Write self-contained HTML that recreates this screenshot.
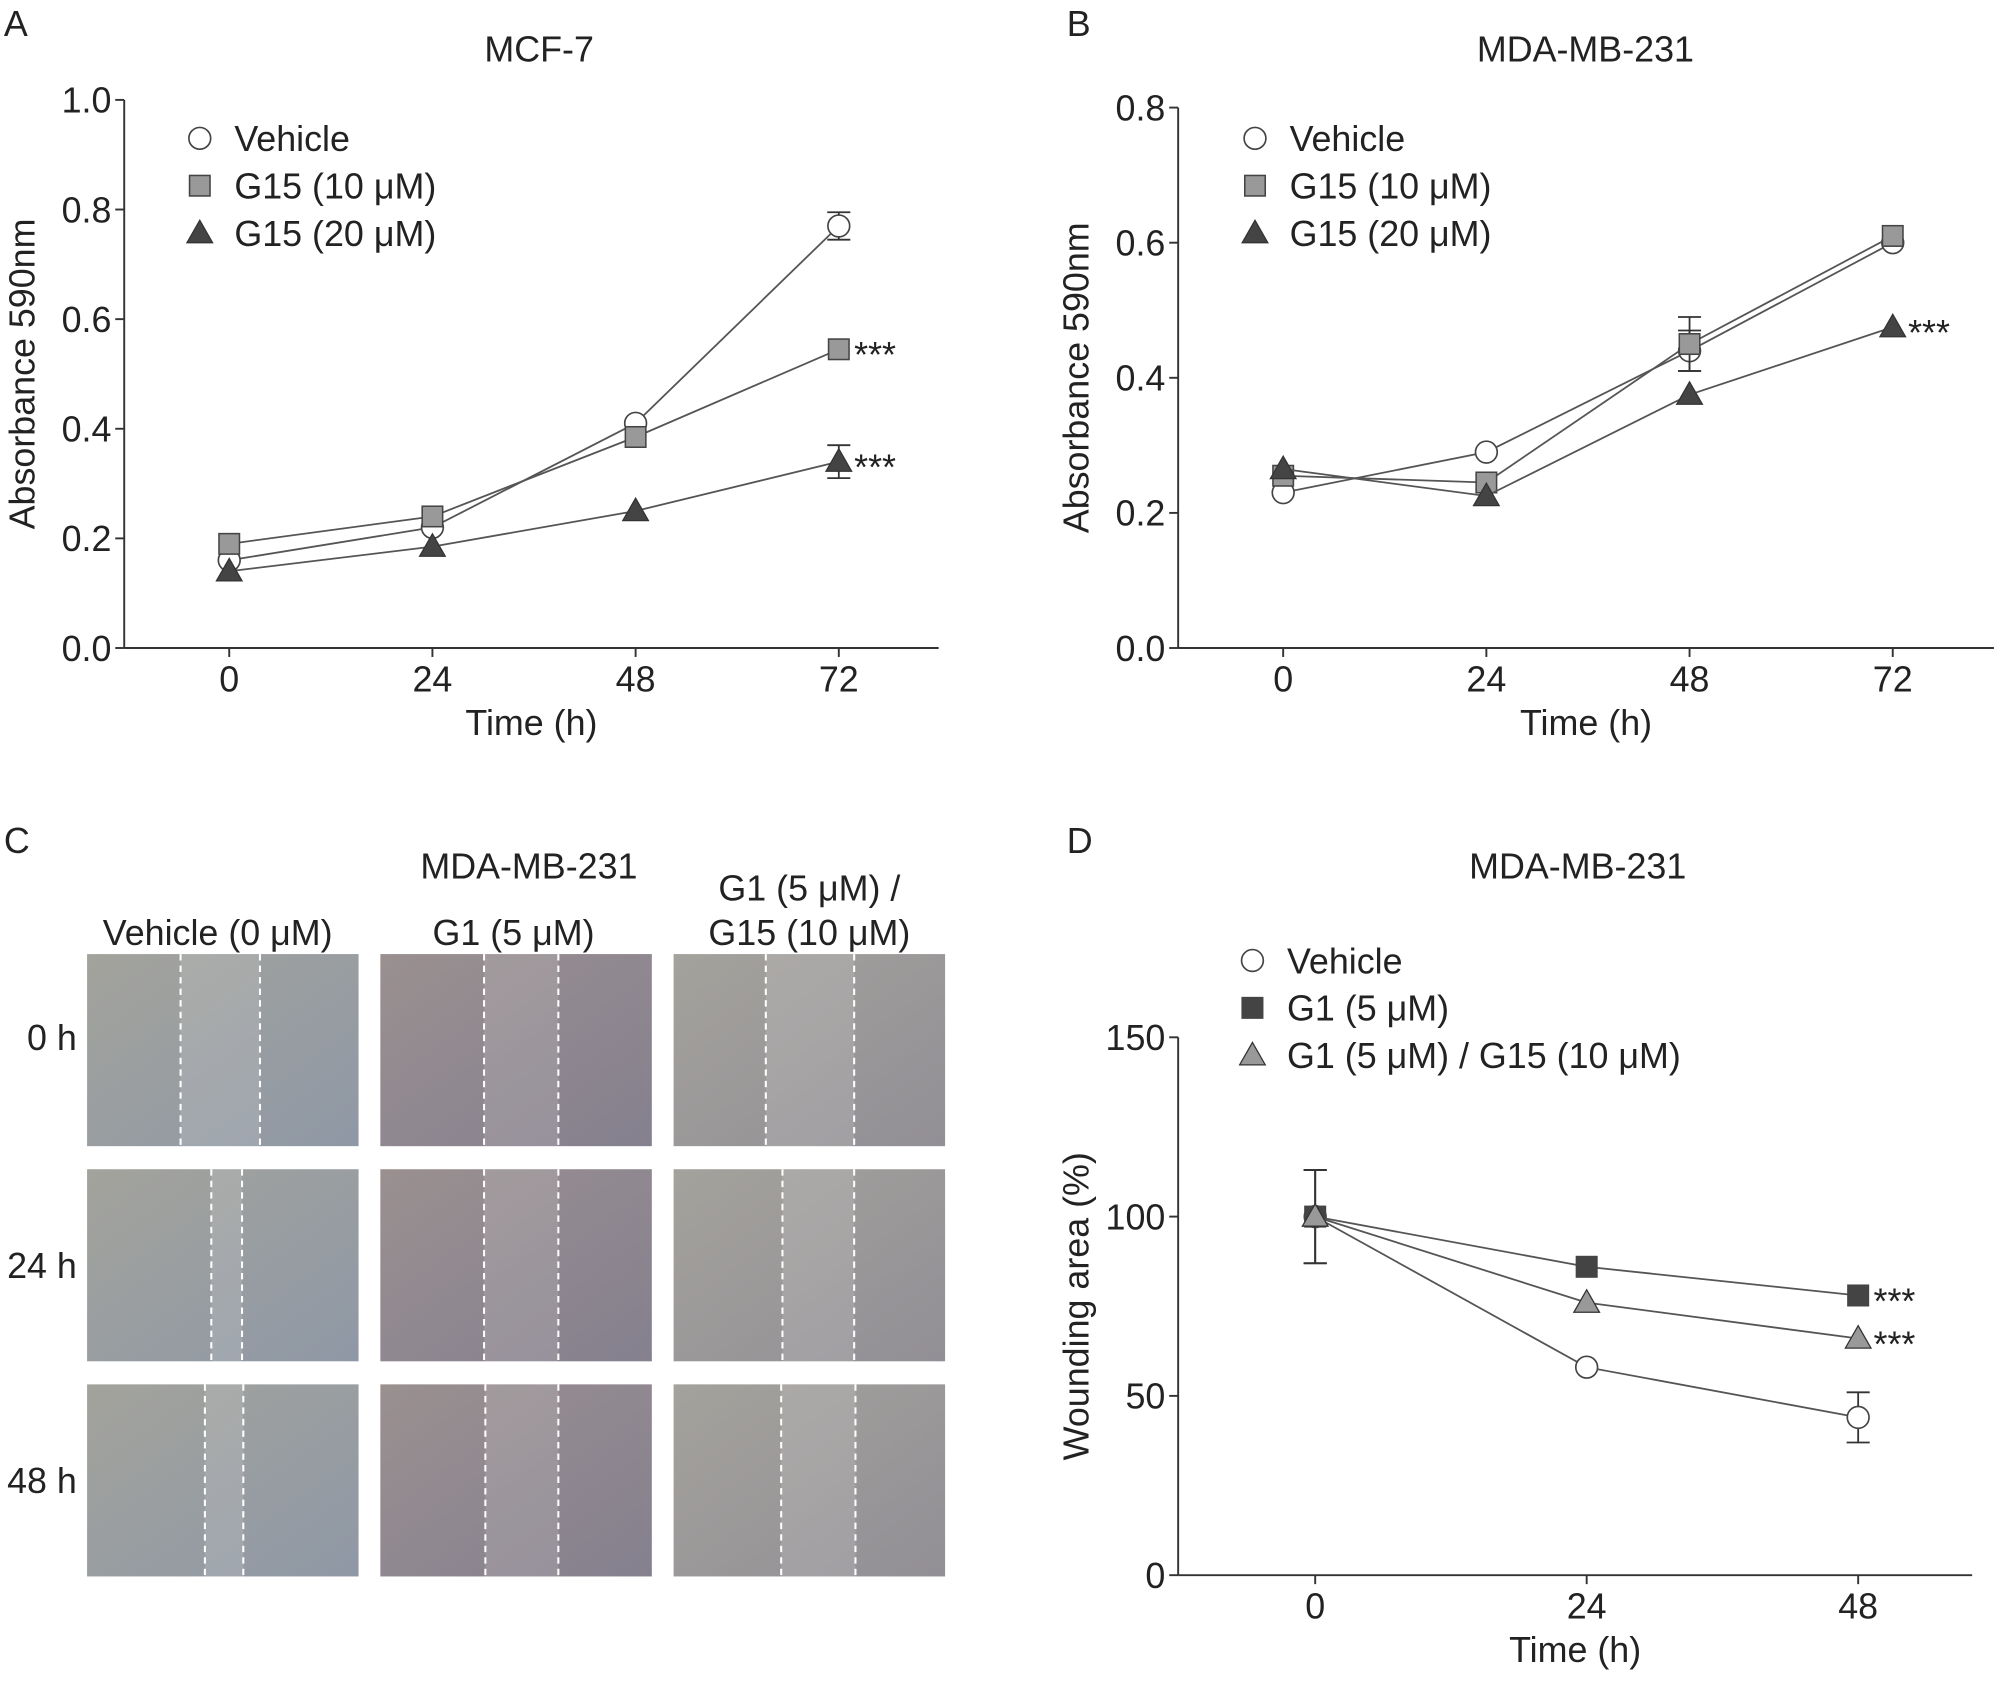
<!DOCTYPE html>
<html><head><meta charset="utf-8"><style>
html,body{margin:0;padding:0;background:#fff;width:2008px;height:1693px;overflow:hidden}
svg{display:block}
text{font-family:"Liberation Sans",sans-serif;fill:#222}
</style></head><body>
<svg id="fig" width="2008" height="1693" viewBox="0 0 1568 1322" xmlns="http://www.w3.org/2000/svg">
<defs>
<linearGradient id="g1" x1="0" y1="0" x2="1" y2="1"><stop offset="0" stop-color="#a3a39c"/><stop offset="1" stop-color="#8f98a6"/></linearGradient>
<linearGradient id="g2" x1="0" y1="0" x2="1" y2="1"><stop offset="0" stop-color="#9a9090"/><stop offset="1" stop-color="#85808f"/></linearGradient>
<linearGradient id="g3" x1="0" y1="0" x2="1" y2="1"><stop offset="0" stop-color="#a4a29c"/><stop offset="1" stop-color="#928f96"/></linearGradient>
</defs>
<g id="root"></g>
</svg>
<script>
const panelACats=[0,24,48,72];
const panelAVehicle=[0.16,0.22,0.41,0.77];
const panelAG10=[0.19,0.24,0.385,0.545];
const panelAG20=[0.14,0.185,0.25,0.34];
const panelAErr=[[0,0,0,0.025],[0,0,0,0],[0,0,0,0.03]];
const panelAYTicks=[0,0.2,0.4,0.6,0.8,1.0];
const panelBCats=[0,24,48,72];
const panelBVehicle=[0.23,0.29,0.44,0.60];
const panelBG10=[0.255,0.245,0.45,0.61];
const panelBG20=[0.265,0.225,0.375,0.475];
const panelBErr=[[0,0,0.03,0],[0,0,0.04,0],[0,0,0,0]];
const panelBYTicks=[0,0.2,0.4,0.6,0.8];
const panelDCats=[0,24,48];
const panelDVehicle=[100,58,44];
const panelDG1=[100,86,78];
const panelDG1G15=[100,76,66];
const panelDErr=[[13,0,7],[13,0,0],[13,0,0]];
const panelDYTicks=[0,50,100,150];

const NS="http://www.w3.org/2000/svg";
const root=document.getElementById('root');
const FS=28;
function mk(tag,attrs,parent,txt){const e=document.createElementNS(NS,tag);for(const k in attrs)e.setAttribute(k,attrs[k]);if(txt!==undefined)e.textContent=txt;(parent||root).appendChild(e);return e;}
function marker(g,shape,x,y,fill,s){
  let e;
  if(shape==='c')e=mk('circle',{cx:x,cy:y,r:s*0.85,fill:fill,stroke:'#444','stroke-width':1.3},g);
  else if(shape==='s')e=mk('rect',{x:x-s*0.8,y:y-s*0.8,width:s*1.6,height:s*1.6,fill:fill,stroke:'#444','stroke-width':1.2},g);
  else e=mk('polygon',{points:`${x},${y-s} ${x-s},${y+s*0.75} ${x+s},${y+s*0.75}`,fill:fill,stroke:'#333','stroke-width':1},g);
  return e;
}
function chart(o){
  const g=mk('g',{});
  
  
  const X=v=>o.x0+(v-o.cats[0])/(o.cats[o.cats.length-1]-o.cats[0])*(o.x1-o.x0);
  const Y=v=>o.yb-v/o.ymax*(o.yb-o.yt);
  const ax={stroke:'#333','stroke-width':1.5,fill:'none'};
  let e=mk('line',Object.assign({x1:o.ax,y1:Y(o.ymax),x2:o.ax,y2:o.yb},ax),g);
  
  e=mk('line',Object.assign({x1:o.ax,y1:o.yb,x2:o.axEnd,y2:o.yb},ax),g);
  
  o.yticks.forEach(t=>{mk('line',Object.assign({x1:o.ax-7,y1:Y(t),x2:o.ax,y2:Y(t)},ax),g);
    const tx=mk('text',{x:o.ax-10,y:Y(t)+10,'text-anchor':'end','font-size':FS},g,o.fmt(t));
    });
  o.cats.forEach(c=>{mk('line',Object.assign({x1:X(c),y1:o.yb,x2:X(c),y2:o.yb+7},ax),g);
    const tx=mk('text',{x:X(c),y:o.yb+34,'text-anchor':'middle','font-size':FS},g,String(c));
    });
  e=mk('text',{x:(o.ax+o.axEnd)/2,y:o.yb+68,'text-anchor':'middle','font-size':FS},g,'Time (h)');
  
  const cy=(o.yt+o.yb)/2;
  e=mk('text',{x:0,y:0,'text-anchor':'middle','font-size':FS,transform:`translate(${o.ax-70},${cy}) rotate(-90)`},g,o.ylabel);
  
  e=mk('text',{x:o.titleX,y:o.titleY,'text-anchor':'middle','font-size':FS},g,o.title);
  
  o.series.forEach((s,i)=>{
    const sg=mk('g',{},g);
    
    mk('polyline',{points:s.vals.map((v,j)=>X(o.cats[j])+','+Y(v)).join(' '),fill:'none',stroke:'#555','stroke-width':1.4},sg);
    s.vals.forEach((v,j)=>{const er=o.err[i][j];if(er>0){
      mk('line',{x1:X(o.cats[j]),y1:Y(v+er),x2:X(o.cats[j]),y2:Y(v-er),stroke:'#333','stroke-width':1.4},sg);
      [v+er,v-er].forEach(w=>mk('line',{x1:X(o.cats[j])-9,y1:Y(w),x2:X(o.cats[j])+9,y2:Y(w),stroke:'#333','stroke-width':1.4},sg));}});
    s.vals.forEach((v,j)=>{const m=marker(sg,s.shape,X(o.cats[j]),Y(v),s.fill,10);
      });
    if(s.star){const t=mk('text',{x:X(o.cats[o.cats.length-1])+12,y:Y(s.vals[s.vals.length-1])+14,'font-size':FS},sg,'***');
      }
    const ly=o.legY+i*37;
    const lg=mk('g',{},g);
    marker(lg,s.shape,o.legX,ly,s.fill,10);
    mk('text',{x:o.legX+27,y:ly+10,'font-size':FS},lg,s.label);
  });
}
const fA=v=>v.toFixed(1);
chart({name:'panel-a-chart',cats:panelACats,x0:179,x1:655,ax:97,axEnd:733,yb:506,yt:78,ymax:1.0,yticks:panelAYTicks,fmt:fA,
  ylabel:'Absorbance 590nm',title:'MCF-7',titleX:421,titleY:48,legX:156,legY:108,err:panelAErr,
  series:[{key:'vehicle',label:'Vehicle',vals:panelAVehicle,shape:'c',fill:'#fff'},
  {key:'g15-10',label:'G15 (10 μM)',vals:panelAG10,shape:'s',fill:'#999',star:1},
  {key:'g15-20',label:'G15 (20 μM)',vals:panelAG20,shape:'t',fill:'#444',star:1}]});
chart({name:'panel-b-chart',cats:panelBCats,x0:1002,x1:1478,ax:920,axEnd:1557,yb:506,yt:84,ymax:0.8,yticks:panelBYTicks,fmt:fA,
  ylabel:'Absorbance 590nm',title:'MDA-MB-231',titleX:1238,titleY:48,legX:980,legY:108,err:panelBErr,
  series:[{key:'vehicle',label:'Vehicle',vals:panelBVehicle,shape:'c',fill:'#fff'},
  {key:'g15-10',label:'G15 (10 μM)',vals:panelBG10,shape:'s',fill:'#999'},
  {key:'g15-20',label:'G15 (20 μM)',vals:panelBG20,shape:'t',fill:'#444',star:1}]});
chart({name:'panel-d-chart',cats:panelDCats,x0:1027,x1:1451,ax:920,axEnd:1540,yb:1230,yt:810,ymax:150,yticks:panelDYTicks,fmt:v=>String(v),
  ylabel:'Wounding area (%)',title:'MDA-MB-231',titleX:1232,titleY:686,legX:978,legY:750,err:panelDErr,
  series:[{key:'vehicle',label:'Vehicle',vals:panelDVehicle,shape:'c',fill:'#fff'},
  {key:'g1',label:'G1 (5 μM)',vals:panelDG1,shape:'s',fill:'#444',star:1},
  {key:'g1-g15',label:'G1 (5 μM) / G15 (10 μM)',vals:panelDG1G15,shape:'t',fill:'#999',star:1}]});

[['A',3,28],['B',833,28],['C',3,666],['D',833,666]].forEach(p=>{const t=mk('text',{x:p[1],y:p[2],'font-size':FS},root,p[0]);
  });
const pc=mk('g',{});
const colsX=[68,297,526],rowsY=[745,913,1081],grads=['g1','g2','g3'];
const dash=[[[141,203],[165,189],[160,190]],[[378,436],[378,436],[379,436]],[[598,667],[611,667],[610,668]]];
colsX.forEach((cx,ci)=>rowsY.forEach((ry,ri)=>{
  const r=mk('rect',{x:cx,y:ry,width:212,height:150,fill:`url(#${grads[ci]})`},pc);
  
  const d=dash[ci][ri];
  mk('rect',{x:d[0],y:ry,width:d[1]-d[0],height:150,fill:'#fff','fill-opacity':0.12},pc);
  d.forEach(x=>mk('line',{x1:x,y1:ry,x2:x,y2:ry+150,stroke:'#fff','stroke-width':1.6,'stroke-dasharray':'5,4'},pc));
}));
[['Vehicle (0 μM)',170,738],['G1 (5 μM)',401,738],['G1 (5 μM) /',632,703],['G15 (10 μM)',632,738],['MDA-MB-231',413,686]].forEach(t=>{
  const e=mk('text',{x:t[1],y:t[2],'text-anchor':'middle','font-size':FS},pc,t[0]);});
[['0 h',820],['24 h',998],['48 h',1166]].forEach(t=>{
  const e=mk('text',{x:60,y:t[1],'text-anchor':'end','font-size':FS},pc,t[0]);});
</script>
</body></html>
